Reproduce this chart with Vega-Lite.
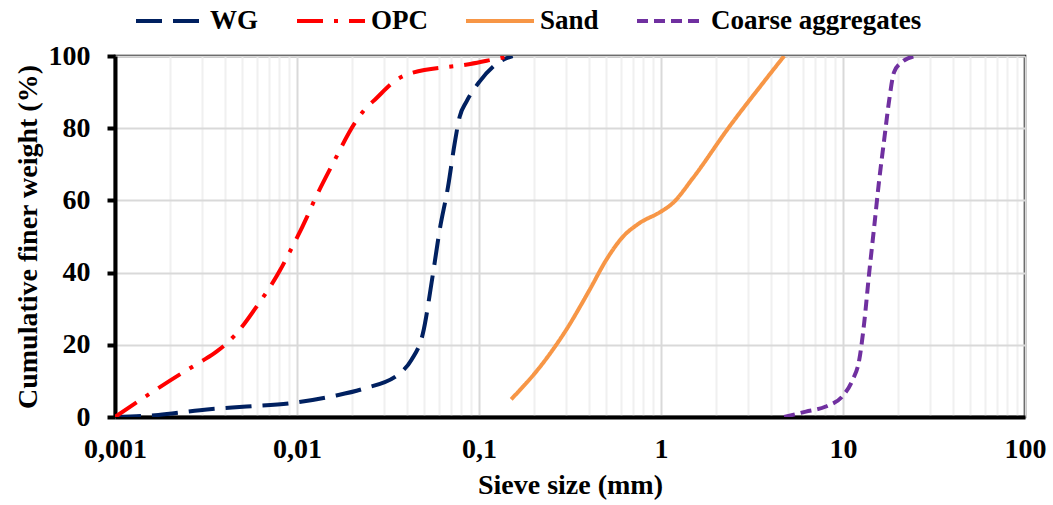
{
  "$schema": "https://vega.github.io/schema/vega-lite/v6.json",
  "width": 910,
  "height": 361,
  "autosize": {"type": "none"},
  "padding": {"left": 115, "top": 56, "right": 28, "bottom": 88},
  "background": "white",
  "config": {
    "font": "Liberation Serif",
    "view": {"stroke": "black", "strokeWidth": 2.5},
    "axis": {"labelFont": "Liberation Serif", "titleFont": "Liberation Serif", "labelFontWeight": "bold", "titleFontWeight": "bold", "labelColor": "black", "titleColor": "black"}
  },
  "data": {"values": [
    {"series": "WG", "size": 0.001, "pass": 0},
    {"series": "WG", "size": 0.00173, "pass": 0.55},
    {"series": "WG", "size": 0.00293, "pass": 1.9},
    {"series": "WG", "size": 0.00528, "pass": 2.9},
    {"series": "WG", "size": 0.00913, "pass": 3.8},
    {"series": "WG", "size": 0.0158, "pass": 5.8},
    {"series": "WG", "size": 0.0231, "pass": 7.8},
    {"series": "WG", "size": 0.0367, "pass": 12.1},
    {"series": "WG", "size": 0.0425, "pass": 15.8},
    {"series": "WG", "size": 0.0492, "pass": 23.2},
    {"series": "WG", "size": 0.0559, "pass": 39.8},
    {"series": "WG", "size": 0.0608, "pass": 51.8},
    {"series": "WG", "size": 0.0676, "pass": 63.8},
    {"series": "WG", "size": 0.0735, "pass": 75.8},
    {"series": "WG", "size": 0.0783, "pass": 83.2},
    {"series": "WG", "size": 0.0852, "pass": 87.3},
    {"series": "WG", "size": 0.1007, "pass": 92.9},
    {"series": "WG", "size": 0.1297, "pass": 98.4},
    {"series": "WG", "size": 0.153, "pass": 100},
    {"series": "OPC", "size": 0.001, "pass": 0},
    {"series": "OPC", "size": 0.00159, "pass": 6.8},
    {"series": "OPC", "size": 0.00258, "pass": 13.5},
    {"series": "OPC", "size": 0.00303, "pass": 15.6},
    {"series": "OPC", "size": 0.00361, "pass": 18.1},
    {"series": "OPC", "size": 0.00466, "pass": 23.2},
    {"series": "OPC", "size": 0.006, "pass": 30.6},
    {"series": "OPC", "size": 0.00808, "pass": 40.7},
    {"series": "OPC", "size": 0.00894, "pass": 44.9},
    {"series": "OPC", "size": 0.01137, "pass": 55.5},
    {"series": "OPC", "size": 0.01225, "pass": 59.2},
    {"series": "OPC", "size": 0.0159, "pass": 70.6},
    {"series": "OPC", "size": 0.02076, "pass": 81.4},
    {"series": "OPC", "size": 0.0233, "pass": 84.9},
    {"series": "OPC", "size": 0.0273, "pass": 88.3},
    {"series": "OPC", "size": 0.0352, "pass": 93.4},
    {"series": "OPC", "size": 0.042, "pass": 95.2},
    {"series": "OPC", "size": 0.0896, "pass": 97.8},
    {"series": "OPC", "size": 0.1297, "pass": 99.4},
    {"series": "OPC", "size": 0.15, "pass": 100},
    {"series": "Sand", "size": 0.1503, "pass": 4.9},
    {"series": "Sand", "size": 0.2243, "pass": 14.9},
    {"series": "Sand", "size": 0.301, "pass": 24.1},
    {"series": "Sand", "size": 0.405, "pass": 35.2},
    {"series": "Sand", "size": 0.5, "pass": 43.5},
    {"series": "Sand", "size": 0.617, "pass": 49.9},
    {"series": "Sand", "size": 0.761, "pass": 53.7},
    {"series": "Sand", "size": 1.0, "pass": 56.9},
    {"series": "Sand", "size": 1.158, "pass": 59.2},
    {"series": "Sand", "size": 1.493, "pass": 66.1},
    {"series": "Sand", "size": 2.373, "pass": 80.4},
    {"series": "Sand", "size": 3.616, "pass": 92.4},
    {"series": "Sand", "size": 4.75, "pass": 100},
    {"series": "Coarse aggregates", "size": 4.75, "pass": 0},
    {"series": "Coarse aggregates", "size": 6.25, "pass": 1.5},
    {"series": "Coarse aggregates", "size": 8.05, "pass": 2.9},
    {"series": "Coarse aggregates", "size": 10.07, "pass": 6.1},
    {"series": "Coarse aggregates", "size": 11.28, "pass": 10.2},
    {"series": "Coarse aggregates", "size": 12.28, "pass": 15.8},
    {"series": "Coarse aggregates", "size": 13.07, "pass": 26},
    {"series": "Coarse aggregates", "size": 13.92, "pass": 39.8},
    {"series": "Coarse aggregates", "size": 14.84, "pass": 52.7},
    {"series": "Coarse aggregates", "size": 15.81, "pass": 65.7},
    {"series": "Coarse aggregates", "size": 16.83, "pass": 76.7},
    {"series": "Coarse aggregates", "size": 17.94, "pass": 87.8},
    {"series": "Coarse aggregates", "size": 19.1, "pass": 95.6},
    {"series": "Coarse aggregates", "size": 21.2, "pass": 98.4},
    {"series": "Coarse aggregates", "size": 25.1, "pass": 100}
  ]},
  "mark": {"type": "line", "interpolate": "monotone", "strokeWidth": 4, "clip": true},
  "encoding": {
    "x": {
      "field": "size", "type": "quantitative",
      "scale": {"type": "log", "domain": [0.001, 100], "nice": false},
      "axis": {
        "title": "Sieve size (mm)",
        "titleFontSize": 28,
        "titlePadding": 8,
        "labelFontSize": 28,
        "labelPadding": 18,
        "labelFlush": false,
        "labelOverlap": false,
        "ticks": false,
        "domainColor": "black",
        "domainWidth": 4,
        "values": [0.001,0.002,0.003,0.004,0.005,0.006,0.007,0.008,0.009,0.01,0.02,0.03,0.04,0.05,0.06,0.07,0.08,0.09,0.1,0.2,0.3,0.4,0.5,0.6,0.7,0.8,0.9,1,2,3,4,5,6,7,8,9,10,20,30,40,50,60,70,80,90,100],
        "labelExpr": "abs(log(datum.value)/LN10 - round(log(datum.value)/LN10)) < 0.000001 ? replace(format(datum.value, '~g'), '.', ',') : ''",
        "gridColor": {"condition": {"test": "abs(log(datum.value)/LN10 - round(log(datum.value)/LN10)) < 0.000001", "value": "#d9d9d9"}, "value": "#f0f0f0"},
        "gridWidth": 2
      }
    },
    "y": {
      "field": "pass", "type": "quantitative",
      "scale": {"domain": [0, 100], "nice": false},
      "axis": {
        "title": "Cumulative finer weight (%)",
        "titleFontSize": 28,
        "titlePadding": 6,
        "labelFontSize": 28,
        "labelPadding": 17,
        "values": [0, 20, 40, 60, 80, 100],
        "tickSize": 8,
        "tickWidth": 4,
        "tickColor": "black",
        "domainColor": "black",
        "domainWidth": 4,
        "gridColor": "#d9d9d9",
        "gridWidth": 2
      }
    },
    "color": {
      "field": "series", "type": "nominal",
      "scale": {"domain": ["WG", "OPC", "Sand", "Coarse aggregates"], "range": ["#002060", "#ff0000", "#f79646", "#7030a0"]},
      "legend": {
        "title": null,
        "orient": "none",
        "direction": "horizontal",
        "legendX": 19,
        "legendY": -71,
        "symbolType": "stroke",
        "symbolSize": 4624,
        "symbolStrokeWidth": 4,
        "labelFont": "Liberation Serif",
        "labelFontWeight": "bold",
        "labelFontSize": 27,
        "labelColor": "black",
        "labelOffset": 4,
        "columnPadding": 30,
        "labelLimit": 400
      }
    },
    "strokeDash": {
      "field": "series", "type": "nominal",
      "scale": {"domain": ["WG", "OPC", "Sand", "Coarse aggregates"], "range": [[26, 11], [26, 11, 4, 11], [1, 0], [11, 6]]},
      "legend": {
        "title": null,
        "orient": "none",
        "direction": "horizontal",
        "legendX": 19,
        "legendY": -71,
        "symbolType": "stroke",
        "symbolSize": 4624,
        "symbolStrokeWidth": 4,
        "labelFont": "Liberation Serif",
        "labelFontWeight": "bold",
        "labelFontSize": 27,
        "labelColor": "black",
        "labelOffset": 4,
        "columnPadding": 30,
        "labelLimit": 400
      }
    }
  }
}
